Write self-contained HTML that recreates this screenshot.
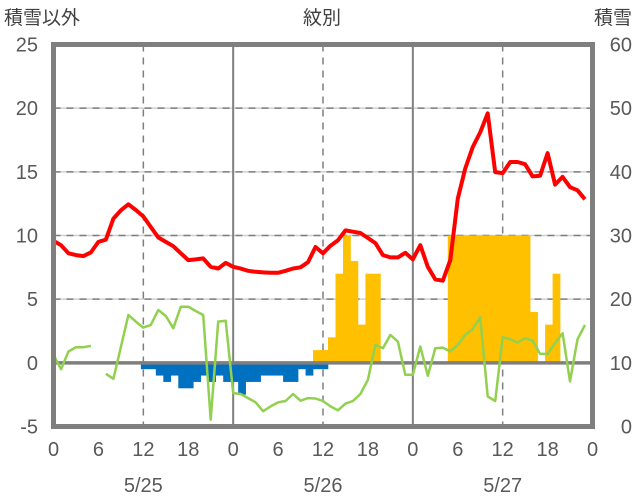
<!DOCTYPE html>
<html><head><meta charset="utf-8"><style>
body{margin:0;background:#fff;}
svg{display:block;font-family:"Liberation Sans Narrow","Liberation Sans","Noto Sans CJK JP",sans-serif;}
</style></head><body>
<svg id="chart" width="636" height="501" viewBox="0 0 636 501" xmlns="http://www.w3.org/2000/svg">
<g id="grid"></g>
<g id="bars"></g>
<g id="lines"></g>
<g id="axes"></g>
<text x="4" y="24" font-size="19" fill="#404040" font-family="'Noto Sans CJK JP',sans-serif">積雪以外</text>
<text x="322" y="24" font-size="19" fill="#404040" text-anchor="middle" font-family="'Noto Sans CJK JP',sans-serif">紋別</text>
<text x="632" y="24" font-size="19" fill="#404040" text-anchor="end" font-family="'Noto Sans CJK JP',sans-serif">積雪</text>
</svg>
<script>
const leftTicks=[-5,0,5,10,15,20,25];
const rightTicks=[0,10,20,30,40,50,60];
const hourTicks=[0,6,12,18,24,30,36,42,48,54,60,66,72];
const hourLabels=["0","6","12","18","0","6","12","18","0","6","12","18","0"];
const dateLabels=["5/25","5/26","5/27"];
const dateHours=[12,36,60];
const redVals=[9.58,9.24,8.6,8.46,8.38,8.67,9.5,9.68,11.33,11.98,12.45,12.0,11.5,10.67,9.84,9.5,9.16,8.6,8.07,8.12,8.2,7.54,7.41,7.85,7.54,7.4,7.23,7.15,7.1,7.07,7.07,7.23,7.41,7.5,7.9,9.1,8.6,9.2,9.63,10.4,10.3,10.2,9.8,9.4,8.46,8.28,8.28,8.64,8.12,9.24,7.54,6.55,6.45,8.07,12.9,15.25,16.94,18.1,19.6,14.98,14.9,15.77,15.77,15.6,14.64,14.7,16.47,14.0,14.6,13.8,13.55,12.84];
const greenVals=[0.63,-0.5,0.89,1.23,1.23,1.33,null,-0.86,-1.25,1.25,3.76,3.24,2.77,2.98,4.15,3.68,2.72,4.41,4.41,4.07,3.76,-4.46,3.24,3.31,-2.38,-2.45,-2.77,-3.1,-3.8,-3.42,-3.1,-3.0,-2.45,-2.97,-2.77,-2.8,-3.0,-3.42,-3.73,-3.2,-3.0,-2.45,-1.33,1.41,1.15,2.19,1.67,-0.94,-0.94,1.28,-1.02,1.15,1.2,0.89,1.41,2.19,2.64,3.58,-2.64,-3.0,2.01,1.85,1.59,1.93,1.75,0.7,0.7,1.54,2.32,-1.46,1.85,2.98];
const snowHours=[35,36,37,38,39,40,41,42,43,53,54,55,56,57,58,59,60,61,62,63,64,66,67];
const snowVals=[1,1,2,7,10,8,3,7,7,10,10,10,10,10,10,10,10,10,10,10,4,3,7];
const negHours=[12,13,14,15,16,17,18,19,20,21,22,23,24,25,26,27,28,29,30,31,32,33,34,35,36];
const negVals=[-0.5,-0.5,-1,-1.5,-1,-2,-2,-1.5,-1,-1.5,-1,-1.5,-1.5,-2.5,-1.5,-1.5,-1,-1,-1,-1.5,-1.5,-0.5,-1,-0.5,-0.5];

const X0=53.5,X1=592.5,YT=44.5,YB=426.5;
const x=h=>X0+(X1-X0)*h/72;
const yL=v=>YB-(YB-YT)*(v+5)/30;
const yR=v=>YB-(YB-YT)*v/60;
const NS="http://www.w3.org/2000/svg";
function mk(tag,attrs,parent){const e=document.createElementNS(NS,tag);for(const k in attrs)e.setAttribute(k,attrs[k]);parent.appendChild(e);return e;}
const grid=document.getElementById('grid'),bars=document.getElementById('bars'),lines=document.getElementById('lines'),axes=document.getElementById('axes');
[5,10,15,20].forEach(v=>{
  let l=mk('line',{x1:X0,x2:X1,y1:yL(v),y2:yL(v),stroke:'#d0d0d0','stroke-width':1.5},grid);
  
  
  let d=mk('line',{x1:X0,x2:X1,y1:yL(v),y2:yL(v),stroke:'#7f7f7f','stroke-width':1.5,'stroke-dasharray':'7,6'},grid);
  
  
});
[12,36,60].forEach(h=>{
  let l=mk('line',{x1:x(h),x2:x(h),y1:YT,y2:YB,stroke:'#7f7f7f','stroke-width':1.5,'stroke-dasharray':'7,6'},grid);
  
  
});
[24,48].forEach(h=>{
  let l=mk('line',{x1:x(h),x2:x(h),y1:YT,y2:YB,stroke:'#7f7f7f','stroke-width':2},grid);
  
  
});
const bw=(X1-X0)/72;
snowHours.forEach((h,i)=>{
  const v=snowVals[i];
  let r=mk('rect',{x:x(h)-bw*0.33,y:yL(v),width:bw+0.3,height:yL(0)-yL(v),fill:'#ffc000'},bars);
  
  
});
negHours.forEach((h,i)=>{
  const v=negVals[i];
  let r=mk('rect',{x:x(h)-bw*0.33,y:yL(0),width:bw+0.3,height:yL(v)-yL(0),fill:'#0070c0'},bars);
  
  
});
let zl=mk('line',{x1:X0,x2:X1,y1:yL(0),y2:yL(0),stroke:'#7f7f7f','stroke-width':3.5},grid.parentNode.insertBefore(document.createElementNS(NS,'g'),lines));


function path(vals,fy){let d='',pen=false;vals.forEach((v,i)=>{if(v===null){pen=false;return;}d+=(pen?'L':'M')+x(i).toFixed(1)+' '+fy(v).toFixed(1);pen=true;});return d;}
let g=mk('path',{d:path(greenVals,yL),fill:'none',stroke:'#92d050','stroke-width':2.5,'stroke-linejoin':'round'},lines);


let r=mk('path',{d:path(redVals,yL),fill:'none',stroke:'#ff0000','stroke-width':4,'stroke-linejoin':'round'},lines);


let fr=mk('rect',{x:X0,y:YT,width:X1-X0,height:YB-YT,fill:'none',stroke:'#7f7f7f','stroke-width':5},axes);


leftTicks.forEach(v=>{
  let t=mk('text',{x:38,y:yL(v)+7,'font-size':20,fill:'#595959','text-anchor':'end'},axes);t.textContent=v;
  
  
});
rightTicks.forEach(v=>{
  let t=mk('text',{x:632,y:yR(v)+7,'font-size':20,fill:'#595959','text-anchor':'end'},axes);t.textContent=v;
  
  
});
hourTicks.forEach((h,i)=>{
  let t=mk('text',{x:x(h),y:456,'font-size':20,fill:'#595959','text-anchor':'middle'},axes);t.textContent=hourLabels[i];
  
  
});
dateHours.forEach((h,i)=>{
  let t=mk('text',{x:x(h),y:492,'font-size':20,fill:'#595959','text-anchor':'middle'},axes);t.textContent=dateLabels[i];
  
  
});
</script>
</body></html>
